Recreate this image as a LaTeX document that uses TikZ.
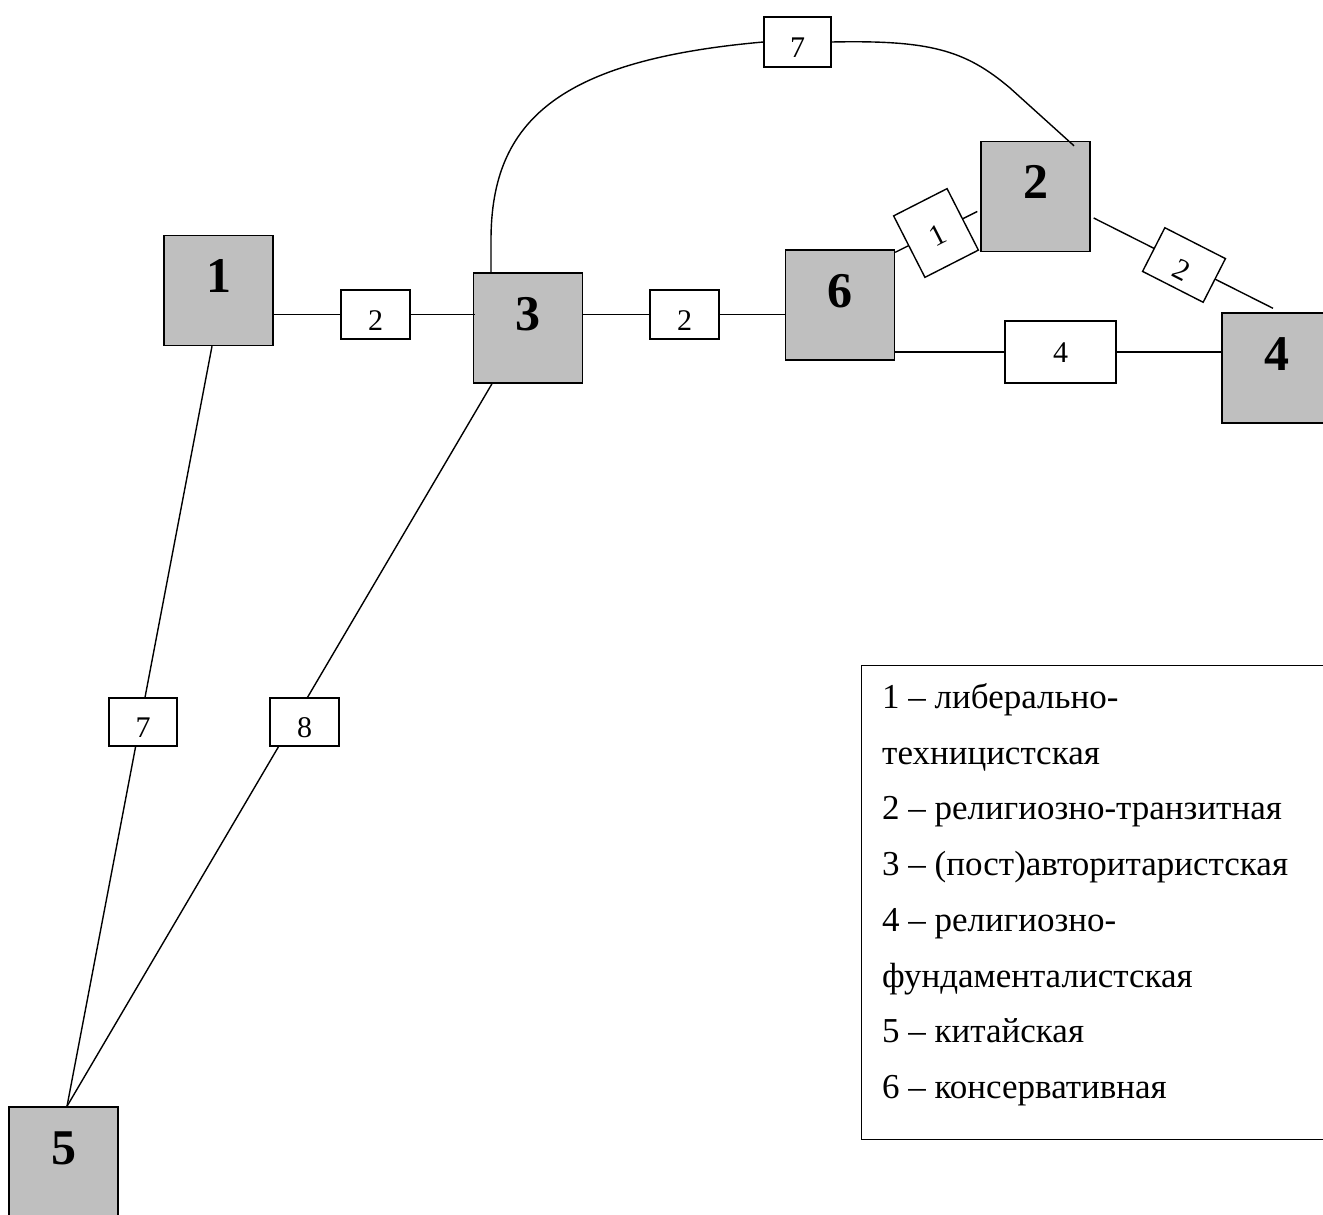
\documentclass[tikz,border=0pt]{standalone}
\usepackage{fontspec}
\setmainfont{Liberation Serif}
\usetikzlibrary{backgrounds}
\pgfdeclarelayer{bottom}
\pgfsetlayers{bottom,background,main}
\definecolor{nodegray}{HTML}{BFBFBF}
\begin{document}
\begin{tikzpicture}[x=1pt,y=-1pt,
  typ/.style={draw=black, line width=1.4pt, fill=nodegray, minimum width=109pt, minimum height=110pt, inner sep=0pt, font=\fontsize{50}{60}\selectfont\bfseries, text height=34pt, text depth=30pt},
  elab/.style={draw=black, line width=1.4pt, fill=white, inner sep=0pt, minimum width=69pt, minimum height=49pt, font=\fontsize{30}{36}\selectfont, text height=31pt, text depth=0pt},
  edge/.style={line width=1.4pt},
  leg/.style={anchor=base west, inner sep=0pt, font=\fontsize{35}{42}\selectfont}]
\path[use as bounding box, clip] (0,0) rectangle (1323,1215);
% main nodes
\begin{pgfonlayer}{bottom}
\node[typ] (n1) at (218.5,290.5) {1};
\node[typ] (n3) at (528,328) {3};
\node[typ] (n6) at (840,305) {6};
\node[typ] (n2) at (1035.5,196.5) {2};
\node[typ] (n4) at (1276.5,368) {4};
\node[typ] (n5) at (63.5,1162) {5};
\end{pgfonlayer}
% edge labels
\node[elab] (l13) at (375.5,314.5) {2};
\node[elab] (l36) at (684.5,314.5) {2};
\node[elab, minimum width=111pt, minimum height=62pt, text height=20.3pt] (l64) at (1060.5,352) {4};
\node[elab, rotate=27, minimum width=60pt, minimum height=69pt, text height=26pt] (l62) at (936,233) {1};
\node[elab, rotate=-27, minimum width=68pt, minimum height=49pt] (l24) at (1184,265) {2};
\node[elab, minimum width=67pt, minimum height=50pt] (l32) at (797.5,42) {7};
\node[elab, minimum width=68pt, minimum height=48pt] (l15) at (143,722) {7};
\node[elab, minimum width=69pt, minimum height=48pt] (l35) at (304.5,722) {8};
% edges
\begin{pgfonlayer}{background}
\draw[edge] (n1.east |- l13) -- ([xshift=2pt]n3.west |- l13);
\draw[edge] (n3.east |- l36) -- (n6.west |- l36);
\draw[edge] (n6.east |- l64) -- (n4.west |- l64);
\draw[edge] ([yshift=-3pt]n6.north east) -- ([xshift=-3pt,yshift=-15pt]n2.west);
\draw[edge] ([xshift=3pt,yshift=-21.5pt]n2.east) -- ([xshift=-3.5pt,yshift=4pt]n4.north);
\draw[edge] ([xshift=-6.5pt]n1.south) -- ([xshift=3.5pt]n5.north);
\draw[edge] ([xshift=-36pt]n3.south) -- ([xshift=3.5pt]n5.north);
\draw[edge] ([xshift=-37pt]n3.north) -- (491,240) .. controls (491,120) and (560,60) .. (l32.west);
\draw[edge] (l32.east) .. controls (930,40) and (965,50) .. (1010,88) -- ([xshift=38.5pt,yshift=-5pt]n2.north);
\end{pgfonlayer}
% legend
\node[draw=black, line width=1.4pt, anchor=north west, minimum width=484pt, minimum height=474pt, inner sep=0pt] (legbox) at (861,665) {};
\node[leg] (lg1) at (882,708.5) {1 – либерально-};
\node[leg] (lg2) at (882,764.2) {техницистская};
\node[leg] (lg3) at (882,819.9) {2 – религиозно-транзитная};
\node[leg] (lg4) at (882,875.6) {3 – (пост)авторитаристская};
\node[leg] (lg5) at (882,931.3) {4 – религиозно-};
\node[leg] (lg6) at (882,987) {фундаменталистская};
\node[leg] (lg7) at (882,1042.7) {5 – китайская};
\node[leg] (lg8) at (882,1098.4) {6 – консервативная};
\end{tikzpicture}
\end{document}
